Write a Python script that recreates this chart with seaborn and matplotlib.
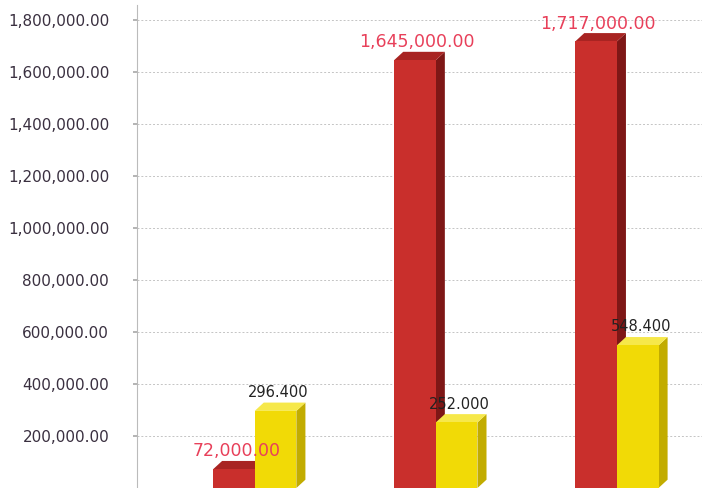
import matplotlib
matplotlib.use("Agg")
import matplotlib.pyplot as plt
import seaborn as sns
import pandas as pd
from matplotlib.patches import Polygon
from matplotlib.ticker import FuncFormatter

categories = ["A", "B", "C"]
series_names = ["Series 1", "Series 2"]
red_values = [72000, 1645000, 1717000]
yellow_values = [296400, 252000, 548400]
red_labels = ["72,000.00", "1,645,000.00", "1,717,000.00"]
yellow_labels = ["296.400", "252.000", "548.400"]
yticks = [200000, 400000, 600000, 800000, 1000000, 1200000, 1400000, 1600000, 1800000]

df = pd.DataFrame({
    "cat": categories * 2,
    "series": [series_names[0]] * 3 + [series_names[1]] * 3,
    "value": red_values + yellow_values,
})

sns.set_theme(style="white")
plt.rcParams["font.family"] = ["DejaVu Sans"]

fig = plt.figure(figsize=(7.02, 4.88), dpi=100)
ax = fig.add_axes([137 / 702, 0.0, 1 - 137 / 702, 483 / 488])

front = {series_names[0]: "#c92f2c", series_names[1]: "#f1da06"}
sns.barplot(data=df, x="cat", y="value", hue="series", palette=front,
            width=0.46, dodge=True, saturation=1, legend=False, ax=ax,
            linewidth=0, edgecolor="none")

ax.set_xlim(-0.65, 2.47)
ax.set_ylim(0, 1857000)
ax.set_yticks(yticks)
ax.yaxis.set_major_formatter(FuncFormatter(lambda v, p: f"{v:,.2f}"))
ax.tick_params(axis="y", labelsize=11, labelcolor="#3a3040", length=3, color="#aaaaaa", pad=17, left=True)
ax.set_xticks([])
ax.set_xlabel("")
ax.set_ylabel("")
ax.set_axisbelow(True)
ax.grid(axis="y", color="#c4c4c4", linestyle=(0, (2, 2)), linewidth=0.7, zorder=0)
for s in ["top", "right", "bottom"]:
    ax.spines[s].set_visible(False)
ax.spines["left"].set_color("#bbbbbb")
ax.spines["left"].set_linewidth(0.8)

# pseudo-3D depth faces
dx = 0.05
dy = 32000
side_col = {series_names[0]: "#7e1716", series_names[1]: "#c2ac00"}
top_col = {series_names[0]: "#a82422", series_names[1]: "#f6e84a"}
patches = list(ax.patches)
for i, p in enumerate(patches):
    s = series_names[0] if i < 3 else series_names[1]
    z = 3 if i < 3 else 4
    p.set_zorder(z)
    x0 = p.get_x(); w = p.get_width(); h = p.get_height()
    x1 = x0 + w
    side = Polygon([(x1, 0), (x1 + dx, dy), (x1 + dx, h + dy), (x1, h)],
                   closed=True, facecolor=side_col[s], edgecolor="none", zorder=z - 0.1)
    top = Polygon([(x0, h), (x0 + dx, h + dy), (x1 + dx, h + dy), (x1, h)],
                  closed=True, facecolor=top_col[s], edgecolor="none", zorder=z - 0.1)
    ax.add_patch(side)
    ax.add_patch(top)

for i, p in enumerate(patches):
    h = p.get_height()
    if i < 3:
        cx = p.get_x() + p.get_width() / 2 + dx / 4
        ax.text(cx, h + dy + 2000, red_labels[i], ha="center", va="bottom",
                fontsize=12.5, color="#e8405a", zorder=5)
    else:
        cx = p.get_x() + p.get_width() / 2 + dx / 3
        ax.text(cx, h + dy + 10000, yellow_labels[i - 3], ha="center", va="bottom",
                fontsize=10.5, color="#222222", zorder=5)

fig.savefig("out.png", dpi=100)
